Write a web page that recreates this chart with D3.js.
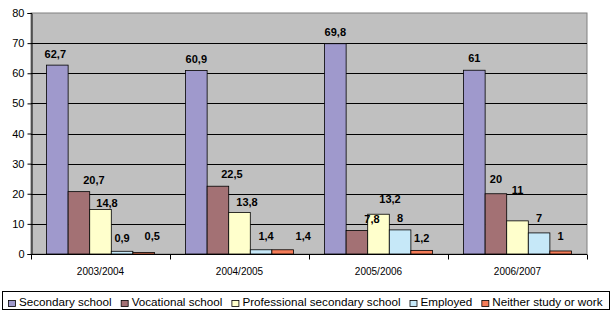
<!DOCTYPE html>
<html>
<head>
<meta charset="utf-8">
<script src="https://cdn.jsdelivr.net/npm/d3@7"></script>
<style>
  body { margin: 0; background: #fff; }
  svg { font-family: "Liberation Sans", Arial, sans-serif; display: block; }
</style>
</head>
<body>
<div id="chart"></div>
<script>
// Data
const years = ['2003/2004', '2004/2005', '2005/2006', '2006/2007'];
const seriesNames = ['Secondary school', 'Vocational school', 'Professional secondary school', 'Employed', 'Neither study or work'];
const secondary = [62.7, 60.9, 69.8, 61];
const vocational = [20.7, 22.5, 7.8, 20];
const professional = [14.8, 13.8, 13.2, 11];
const employed = [0.9, 1.4, 8, 7];
const neither = [0.5, 1.4, 1.2, 1];
const yTicks = [0, 10, 20, 30, 40, 50, 60, 70, 80];

const seriesValues = [secondary, vocational, professional, employed, neither];
const colors = ['#9f99cc', '#a37174', '#ffffcc', '#c6e8f8', '#f47c58'];

// Labels in the original were dragged around by hand: [dx, dy] per series, per year
const labelNudge = [
  [[-2, 1], [0, 0], [0, 0], [0, 0]],
  [[15, 0], [14, 0], [15, 0], [0, -3]],
  [[6.5, 6], [7.5, 1.5], [11.5, -3], [0, -19]],
  [[0, -1], [5, -2], [0, 0], [0, -3]],
  [[8.5, -4.5], [20.5, -2], [0, 0], [0, -3]]
];

const width = 613, height = 310;
const margin = { top: 13, right: 26, bottom: 56, left: 31 };

const svg = d3.select('#chart').append('svg')
  .attr('width', width)
  .attr('height', height);

const x0 = d3.scaleBand()
  .domain(years)
  .range([margin.left, width - margin.right])
  .paddingInner(0)
  .paddingOuter(0);

const x1 = d3.scaleBand()
  .domain(d3.range(seriesNames.length))
  .range([0, x0.bandwidth()])
  .paddingOuter(0.72)
  .paddingInner(0);

const y = d3.scaleLinear()
  .domain([0, 80])
  .range([height - margin.bottom, margin.top]);

// Plot background
svg.append('rect')
  .attr('x', margin.left)
  .attr('y', margin.top)
  .attr('width', width - margin.left - margin.right)
  .attr('height', y(0) - margin.top)
  .attr('fill', '#c0c0c0')
  .attr('stroke', '#808080')
  .attr('stroke-width', 1);

// Gridlines
svg.append('g')
  .selectAll('line')
  .data(yTicks.filter(d => d > 0 && d < 80))
  .join('line')
  .attr('x1', margin.left)
  .attr('x2', width - margin.right)
  .attr('y1', d => Math.round(y(d)) + 0.5)
  .attr('y2', d => Math.round(y(d)) + 0.5)
  .attr('stroke', '#000')
  .attr('stroke-width', 1);

// Bars
const groups = svg.append('g')
  .selectAll('g')
  .data(years)
  .join('g')
  .attr('transform', d => `translate(${x0(d)},0)`);

groups.selectAll('rect')
  .data((d, i) => seriesValues.map((s, k) => ({ k, i, v: s[i] })))
  .join('rect')
  .attr('x', d => x1(d.k))
  .attr('y', d => y(d.v))
  .attr('width', x1.bandwidth())
  .attr('height', d => y(0) - y(d.v))
  .attr('fill', d => colors[d.k])
  .attr('stroke', '#000')
  .attr('stroke-width', 0.8);

// Value labels
const fmt = v => String(v).replace('.', ',');
groups.selectAll('text')
  .data((d, i) => seriesValues.map((s, k) => ({ k, i, v: s[i] })))
  .join('text')
  .attr('x', d => x1(d.k) + x1.bandwidth() / 2 + labelNudge[d.k][d.i][0])
  .attr('y', d => y(d.v) - 8 + labelNudge[d.k][d.i][1])
  .attr('text-anchor', 'middle')
  .attr('font-size', 11)
  .attr('font-weight', 'bold')
  .attr('fill', '#000')
  .text(d => fmt(d.v));

// Y axis
const yAxis = d3.axisLeft(y).tickValues(yTicks).tickSize(4).tickPadding(3);
const gy = svg.append('g')
  .attr('transform', `translate(${margin.left + 0.5},0)`)
  .call(yAxis);
gy.select('.domain').attr('stroke', '#000');
gy.selectAll('.tick line').attr('stroke', '#000');
gy.selectAll('text').attr('font-size', 11).attr('font-family', '"Liberation Sans", Arial, sans-serif').attr('fill', '#000');

// X axis
const xAxis = d3.axisBottom(x0).tickSize(0).tickPadding(13);
const gx = svg.append('g')
  .attr('transform', `translate(0,${Math.round(y(0)) + 0.5})`)
  .call(xAxis);
gx.select('.domain').attr('stroke', '#000').attr('d', `M${margin.left},0H${width - margin.right}`);
gx.selectAll('text').attr('font-size', 10).attr('font-family', '"Liberation Sans", Arial, sans-serif').attr('fill', '#000');

// Category separator ticks
gx.append('g')
  .selectAll('line')
  .data(d3.range(years.length + 1))
  .join('line')
  .attr('x1', i => Math.round(margin.left + i * x0.bandwidth()) + 0.5)
  .attr('x2', i => Math.round(margin.left + i * x0.bandwidth()) + 0.5)
  .attr('y1', 0)
  .attr('y2', 5)
  .attr('stroke', '#000');

// Legend
const legend = svg.append('g');
legend.append('rect')
  .attr('x', 2.5)
  .attr('y', 291.5)
  .attr('width', 607)
  .attr('height', 18)
  .attr('fill', '#fff')
  .attr('stroke', '#000');

// Pick a font size so the legend entries fill the box like the original
const legendStart = 8, legendEnd = 603, swatchGap = 11, itemGap = 9;
const probe = legend.append('text').attr('font-size', 12);
const textTotal = d3.sum(seriesNames, n => probe.text(n).node().getComputedTextLength());
probe.remove();
const available = legendEnd - legendStart - seriesNames.length * swatchGap - (seriesNames.length - 1) * itemGap;
const legendFont = 12 * available / textTotal;

let lx = legendStart;
seriesNames.forEach((name, k) => {
  legend.append('rect')
    .attr('x', lx + 0.5)
    .attr('y', 300.5)
    .attr('width', 7)
    .attr('height', 6)
    .attr('fill', colors[k])
    .attr('stroke', '#000')
    .attr('stroke-width', 0.8);
  const t = legend.append('text')
    .attr('x', lx + swatchGap)
    .attr('y', 306)
    .attr('font-size', legendFont)
    .attr('fill', '#000')
    .text(name);
  lx += swatchGap + t.node().getComputedTextLength() + itemGap;
});
</script>
</body>
</html>
